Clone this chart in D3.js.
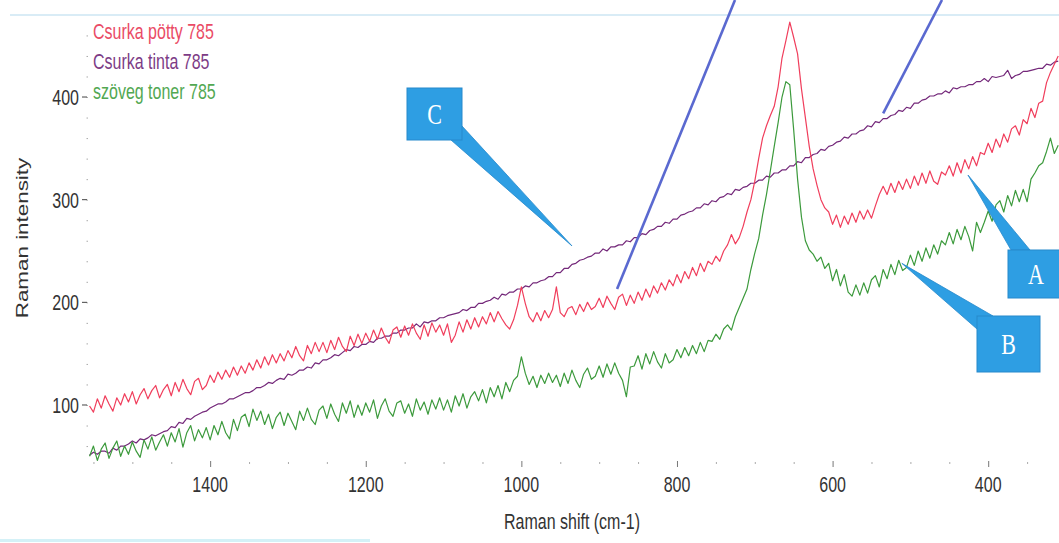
<!DOCTYPE html>
<html lang="hu">
<head>
<meta charset="UTF-8">
<title>Raman spectra 785</title>
<script src="https://d3js.org/d3.v7.min.js"></script>
<style>
  body { margin: 0; background: #fff; }
  svg { display: block; font-family: "Liberation Sans", Arial, sans-serif; }
</style>
</head>
<body>
<svg id="chart" width="1059" height="543"></svg>
<script>
// Raman shift grid (cm-1), 5 cm-1 step, left to right
const shifts = d3.range(1555, 305, -5);

// Csurka pötty 785
const pottyValues = [
  99,93,106,97,109,101,94,107,100,111,
  103,113,101,110,116,106,114,119,107,115,
  120,109,122,113,125,116,110,123,126,115,
  119,129,122,132,125,134,127,137,129,138,
  131,141,134,144,136,147,139,149,141,150,
  143,153,146,157,148,143,158,150,161,152,
  161,151,163,154,166,157,152,167,158,169,
  160,170,162,173,164,175,166,160,173,176,
  166,177,168,179,170,164,178,167,180,171,
  178,168,179,161,168,181,171,183,174,185,
  176,186,179,190,181,191,184,178,174,183,
  197,215,199,186,181,190,182,192,185,193,
  215,190,186,194,196,188,198,191,200,193,
  196,204,195,206,199,193,205,208,197,207,
  199,210,202,213,205,216,209,219,212,222,
  216,227,219,230,223,234,226,238,230,240,
  237,245,240,250,256,266,257,263,274,288,
  300,318,340,360,372,382,391,410,438,455,
  473,458,442,408,380,352,330,314,300,292,
  288,276,285,273,284,276,287,278,289,281,
  290,282,294,305,313,305,316,307,318,310,
  320,311,323,314,326,316,328,318,315,327,
  324,333,323,336,326,339,330,342,333,346,
  344,355,346,359,351,364,356,369,372,363,
  378,374,389,380,394,396,414,424,432,440
];

// Csurka tinta 785
const tintaValues = [
  51,54,52,55,55,53,58,56,60,60,
  62,65,63,67,66,68,71,70,72,74,
  75,79,78,83,82,87,86,89,91,93,
  94,97,99,101,101,103,106,106,108,110,
  112,112,114,117,117,119,122,121,124,126,
  125,130,129,131,134,134,137,136,141,140,
  144,144,146,149,148,151,154,153,157,156,
  159,159,162,161,165,165,167,167,170,170,
  173,173,175,175,179,176,181,180,182,182,
  185,185,187,188,189,190,193,192,195,195,
  199,199,201,202,205,203,208,207,210,210,
  213,213,216,215,219,219,221,222,225,225,
  229,229,233,233,237,238,241,242,244,245,
  248,248,252,250,254,254,256,256,260,259,
  263,263,267,266,270,271,274,274,278,277,
  281,281,285,286,288,289,292,292,296,295,
  299,298,302,303,306,305,310,309,312,313,
  316,316,319,319,323,322,326,326,329,329,
  333,333,337,336,341,341,344,345,349,348,
  352,353,356,357,361,360,364,364,367,368,
  372,371,376,375,379,379,382,383,387,386,
  390,389,394,394,397,398,401,401,403,403,
  406,404,409,408,410,410,412,412,415,415,
  418,415,420,419,420,421,426,418,421,422,
  425,425,426,427,428,428,432,431,434,435
];

// szöveg toner 785
const tonerValues = [
  50,60,46,57,63,48,58,65,50,60,
  52,64,55,49,66,57,69,56,64,71,
  60,73,64,77,59,73,80,65,76,68,
  78,66,80,71,84,73,67,86,75,88,
  91,79,96,85,94,81,91,77,88,93,
  80,92,84,76,94,85,97,86,81,95,
  99,87,101,91,84,102,92,104,88,100,
  90,102,93,105,87,99,106,94,89,102,
  104,92,101,89,106,95,103,91,105,96,
  107,95,105,93,109,99,111,97,108,113,
  104,115,102,117,108,119,106,122,113,124,
  128,147,131,120,128,117,129,121,131,122,
  129,118,131,121,134,124,117,130,136,125,
  128,138,127,140,130,141,131,124,108,137,
  138,148,135,150,140,152,142,136,150,141,
  144,154,146,156,148,158,150,161,152,163,
  162,169,164,174,178,173,186,195,204,213,
  232,248,262,285,305,328,352,375,400,415,
  412,368,320,283,260,251,247,240,244,233,
  238,221,232,216,227,210,206,217,207,219,
  209,222,226,215,232,223,237,227,241,231,
  234,246,236,250,240,253,243,256,247,260,
  256,268,257,271,261,274,264,250,278,268,
  278,289,279,295,299,288,304,294,309,298,
  310,298,320,326,333,336,347,360,345,353
];

const seriesNames = ["Csurka pötty 785", "Csurka tinta 785", "szöveg toner 785"];
const seriesValues = [pottyValues, tintaValues, tonerValues];
const seriesColors = ["#f03e5c", "#74287a", "#3c9a3c"];
const legendColors = ["#ea4b66", "#7d3c86", "#52a852"];

const xTicks = [1400, 1200, 1000, 800, 600, 400];
const yTicks = [100, 200, 300, 400];

// callouts: letter, tip in data units (shift, intensity)
const callouts = [
  { label: "C", tip: [935, 255] },
  { label: "A", tip: [426, 324] },
  { label: "B", tip: [511, 238] }
];
// plain pointer lines from the top edge, tip in data units
const pointers = [
  { tip: [877, 213] },
  { tip: [535, 384] }
];

const svg = d3.select("#chart");
const width = +svg.attr("width");
const height = +svg.attr("height");
const stretch = 1.4;   // the source image is squeezed sideways

const x = d3.scaleLinear().domain([1557, 309]).range([88, 1059]);
const y = d3.scaleLinear().domain([43.5, 479.9]).range([463, 15]);

// frame lines from the picture
svg.append("line")
    .attr("x1", 10).attr("x2", width)
    .attr("y1", 15).attr("y2", 15)
    .attr("stroke", "#b3daee").attr("stroke-width", 1.2);
svg.append("rect")
    .attr("x", 0).attr("y", 539).attr("width", 370).attr("height", 3)
    .attr("fill", "#d4f1f7");

function label(g, px, py, str, anchor, color, size) {
    return g.append("text")
        .attr("transform", `translate(${px},${py}) scale(1,${stretch})`)
        .attr("text-anchor", anchor)
        .attr("fill", color)
        .style("font-size", size + "px")
        .text(str);
}

// x axis ticks
const xAxis = d3.axisBottom(x)
    .tickValues(d3.range(1550, 309, -50))
    .tickSize(3)
    .tickFormat("");
const xg = svg.append("g")
    .attr("transform", `translate(0,${y.range()[0] - 1})`)
    .call(xAxis);
xg.select(".domain").remove();
xg.selectAll(".tick line")
    .attr("stroke", d => xTicks.includes(d) ? "#777" : "#aaa")
    .attr("y1", d => xTicks.includes(d) ? -1 : 0)
    .attr("y2", d => xTicks.includes(d) ? 5 : 2);

xTicks.forEach(t => label(svg, x(t), 492, t, "middle", "#333", 16));

// y axis ticks
const yAxis = d3.axisLeft(y)
    .tickValues(d3.range(60, 480, 20))
    .tickSize(2)
    .tickFormat("");
const yg = svg.append("g")
    .attr("transform", "translate(89,0)")
    .call(yAxis);
yg.select(".domain").remove();
yg.selectAll(".tick line")
    .attr("stroke", "#aaa")
    .attr("x1", -1).attr("x2", -2.5);

yTicks.forEach(t => {
    svg.append("line")
        .attr("x1", 82).attr("x2", 87)
        .attr("y1", y(t)).attr("y2", y(t))
        .attr("stroke", "#444").attr("stroke-width", 1);
    label(svg, 79, y(t) + 8, t, "end", "#333", 16);
});

label(svg, 572, 529, "Raman shift (cm-1)", "middle", "#333", 16);
svg.append("text")
    .attr("transform", `translate(28,238) scale(1,${stretch}) rotate(-90)`)
    .attr("text-anchor", "middle")
    .attr("fill", "#333")
    .style("font-size", "16px")
    .text("Raman intensity");

// spectra
svg.append("clipPath").attr("id", "plot-clip")
    .append("rect").attr("x", 86).attr("y", 10).attr("width", width - 86).attr("height", 460);

const line = d3.line()
    .x((d, i) => x(shifts[i]))
    .y(d => y(d));

svg.append("g").attr("clip-path", "url(#plot-clip)")
    .selectAll("path")
    .data([tintaValues, pottyValues, tonerValues])
    .enter().append("path")
    .attr("d", d => line(d))
    .attr("fill", "none")
    .attr("stroke", d => seriesColors[seriesValues.indexOf(d)])
    .attr("stroke-width", 1.2)
    .attr("stroke-linejoin", "round");

// legend
seriesNames.forEach((name, i) => {
    label(svg, 93, 39 + i * 30, name, "start", legendColors[i], 16);
});

// pointer lines from the top
const pointerTops = [[735, 0], [942, 0]];
svg.selectAll(".pointer")
    .data(pointers)
    .enter().append("line")
    .attr("class", "pointer")
    .attr("x1", (d, i) => pointerTops[i][0])
    .attr("y1", (d, i) => pointerTops[i][1])
    .attr("x2", d => x(d.tip[0]))
    .attr("y2", d => y(d.tip[1]))
    .attr("stroke", "#5a69d0")
    .attr("stroke-width", 2.6);

// callout boxes with tapered pointers
const boxes = [
    { x: 407, y: 88, w: 55, h: 52, base: [[462, 126], [451, 140]] },
    { x: 1008, y: 250, w: 56, h: 48, base: [[1011, 250], [1030, 250]] },
    { x: 977, y: 316, w: 63, h: 56, base: [[977, 329], [993, 316]] }
];
const calloutFill = "#2e9ee3";

callouts.forEach((c, i) => {
    const b = boxes[i];
    const tip = [x(c.tip[0]), y(c.tip[1])];
    svg.append("polygon")
        .attr("points", [b.base[0], tip, b.base[1]].map(p => p.join(",")).join(" "))
        .attr("fill", calloutFill)
        .attr("stroke", "#2689cc")
        .attr("stroke-width", 0.8);
    svg.append("rect")
        .attr("x", b.x).attr("y", b.y)
        .attr("width", b.w).attr("height", b.h)
        .attr("fill", calloutFill)
        .attr("stroke", "#2689cc")
        .attr("stroke-width", 1);
    svg.append("text")
        .attr("transform", `translate(${b.x + b.w / 2},${b.y + b.h / 2 + 10}) scale(1,1.3)`)
        .attr("text-anchor", "middle")
        .attr("fill", "#fff")
        .style("font-family", "'Liberation Serif', 'DejaVu Serif', serif")
        .style("font-size", "22px")
        .text(c.label);
});
</script>
</body>
</html>
